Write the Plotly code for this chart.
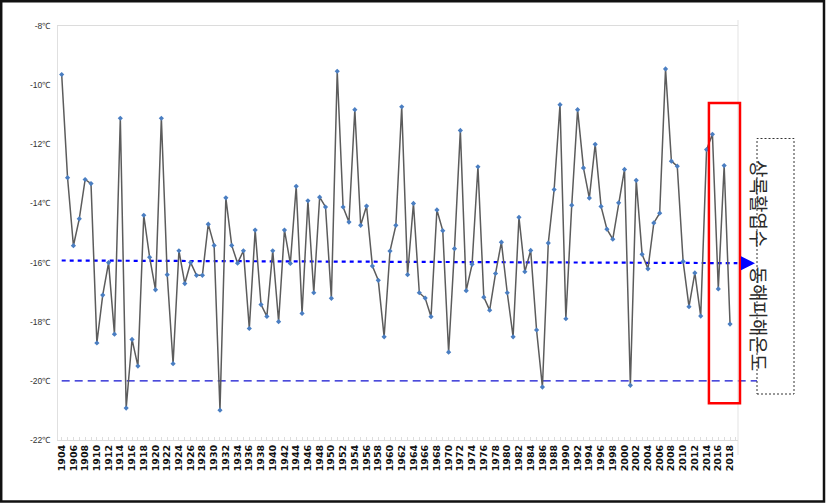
import plotly.graph_objects as go

# ---- data ----
years = list(range(1904, 2019))
temps = [
    -9.64, -13.13, -15.43, -14.52, -13.19, -13.33,                      # 1904-1909
    -18.72, -17.10, -16.00, -18.42, -11.12, -20.92, -18.60, -19.50, -14.40, -15.82,  # 1910-1919
    -16.92, -11.12, -16.41, -19.42, -15.60, -16.71, -16.00, -16.43, -16.43, -14.70,  # 1920-1929
    -15.42, -20.99, -13.81, -15.42, -16.02, -15.60, -18.23, -14.90, -17.42, -17.82,  # 1930-1939
    -15.60, -18.00, -14.90, -16.03, -13.42, -17.72, -13.91, -17.02, -13.79, -14.12,  # 1940-1949
    -17.21, -9.53, -14.12, -14.63, -10.83, -14.74, -14.09, -16.12, -16.60, -18.51,   # 1950-1959
    -15.61, -14.74, -10.73, -16.41, -14.00, -17.02, -17.20, -17.83, -14.22, -14.92,  # 1960-1969
    -19.03, -15.53, -11.53, -16.95, -16.06, -12.76, -17.17, -17.61, -16.37, -15.31,  # 1970-1979
    -17.02, -18.51, -14.47, -16.31, -15.59, -18.28, -20.21, -15.34, -13.53, -10.66,  # 1980-1989
    -17.90, -14.06, -10.83, -12.80, -13.82, -12.00, -14.10, -14.87, -15.21, -13.98,  # 1990-1999
    -12.85, -20.15, -13.22, -15.72, -16.21, -14.66, -14.33, -9.45, -12.57, -12.74,   # 2000-2009
    -15.96, -17.49, -16.35, -17.81, -12.18, -11.66, -16.89, -12.72, -18.08,          # 2010-2018
]
x_ticks = list(range(1904, 2019, 2))
y_ticks = [-8, -10, -12, -14, -16, -18, -20, -22]
y_ticktext = [f"{v}℃" for v in y_ticks]
trend_start, trend_end = -15.93, -16.02
threshold = -20
label_text = "상록활엽수\u3000동해피해온도"
highlight_years = (2014.4, 2019.7)
highlight_vals = (-20.76, -10.6)

# ---- layout geometry ----
W, H = 827, 503
L, R, T, B = 58, 738, 26, 440
x_range = [1903.37, 2019.36]
y_range = [-22, -8]

def xpaper_from_px(p):
    return (p - L) / (R - L)

def ypaper_from_px(p):
    return (B - p) / (B - T)

def xpaper(v):
    return (v - x_range[0]) / (x_range[1] - x_range[0])

def ypaper(v):
    return (v - y_range[0]) / (y_range[1] - y_range[0])

fig = go.Figure()
fig.add_trace(go.Scatter(
    x=years, y=temps, mode="lines+markers",
    line=dict(color="#5c5c5c", width=1.5),
    marker=dict(color="#4a7ec2", size=4, symbol="diamond"),
    showlegend=False, cliponaxis=False,
))

shapes = []
# threshold dashed line
shapes.append(dict(type="line", xref="paper", yref="paper",
                   x0=xpaper(1904), x1=xpaper_from_px(757),
                   y0=ypaper(threshold), y1=ypaper(threshold),
                   line=dict(color="#1010d0", width=1.3, dash="8px,5px"), layer="below"))
# trend dotted line
shapes.append(dict(type="line", xref="paper", yref="paper",
                   x0=xpaper(1904), x1=xpaper_from_px(745),
                   y0=ypaper(trend_start), y1=ypaper(trend_end),
                   line=dict(color="#0000ff", width=2.2, dash="4px,4px"), layer="below"))
# right faint axis line
shapes.append(dict(type="line", xref="paper", yref="paper",
                   x0=xpaper_from_px(738), x1=xpaper_from_px(738),
                   y0=ypaper_from_px(20), y1=ypaper_from_px(455),
                   line=dict(color="#e3e3e3", width=1), layer="below"))
# red highlight box
shapes.append(dict(type="rect", xref="paper", yref="paper",
                   x0=xpaper(highlight_years[0]), x1=xpaper(highlight_years[1]),
                   y0=ypaper(highlight_vals[0]), y1=ypaper(highlight_vals[1]),
                   line=dict(color="#ff0000", width=2.5), fillcolor="rgba(0,0,0,0)"))
# dotted label box
shapes.append(dict(type="rect", xref="paper", yref="paper",
                   x0=xpaper_from_px(757), x1=xpaper_from_px(794),
                   y0=ypaper_from_px(394), y1=ypaper_from_px(138.5),
                   line=dict(color="#333333", width=1, dash="2px,2px"), fillcolor="white"))
# outer frame
shapes.append(dict(type="rect", xref="paper", yref="paper",
                   x0=xpaper_from_px(1.2), x1=xpaper_from_px(824),
                   y0=ypaper_from_px(501.5), y1=ypaper_from_px(1.2),
                   line=dict(color="#111111", width=2.5), fillcolor="rgba(0,0,0,0)"))

annotations = [
    dict(xref="paper", yref="paper",
         x=xpaper_from_px(755), y=ypaper(trend_end),
         ax=-12, ay=0, axref="pixel", ayref="pixel",
         showarrow=True, arrowhead=2, arrowsize=1.4, arrowwidth=2,
         arrowcolor="#0000ff", text="", standoff=0),
    dict(xref="paper", yref="paper",
         x=xpaper_from_px(775.5), y=ypaper_from_px(265),
         text=label_text, textangle=90, showarrow=False,
         font=dict(family="Noto Sans CJK KR", size=19, color="#2a2a2a")),
]

fig.update_layout(
    width=W, height=H,
    margin=dict(l=L, r=W - R, t=T, b=H - B, pad=0),
    paper_bgcolor="white", plot_bgcolor="rgba(0,0,0,0)",
    shapes=shapes, annotations=annotations,
    xaxis=dict(range=x_range, tickmode="array", tickvals=x_ticks,
               ticktext=[str(v) for v in x_ticks], tickangle=-90,
               tickfont=dict(family="DejaVu Sans", size=9.5, color="#111111", weight="bold"),
               showgrid=False, zeroline=False, showline=True, linecolor="#dcdcdc",
               mirror=True, ticks="", ticklen=0,
               minor=dict(dtick=1, ticks="inside", ticklen=3, tickcolor="#dddddd")),
    yaxis=dict(range=y_range, tickmode="array", tickvals=y_ticks, ticktext=y_ticktext,
               tickfont=dict(family="Liberation Sans", size=8.5, color="#333333"),
               showgrid=False, zeroline=False, showline=True, linecolor="#e0e0e0",
               ticks="", ticklabelstandoff=5),
)

fig.write_html("out.html", config={"displayModeBar": False},
               post_script="document.body.style.margin='0px';document.body.style.overflow='hidden';")
